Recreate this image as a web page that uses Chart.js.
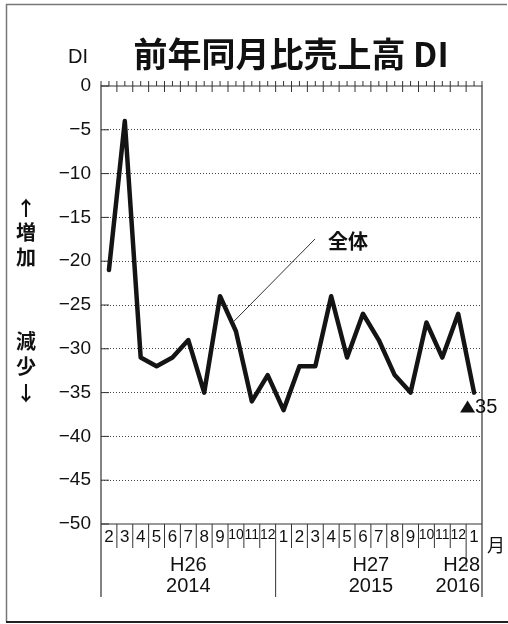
<!DOCTYPE html>
<html>
<head>
<meta charset="utf-8">
<script src="https://cdn.jsdelivr.net/npm/chart.js@4"></script>
<style>
  html, body { margin: 0; padding: 0; background: #fff; }
  #wrap { width: 508px; height: 624px; }
</style>
</head>
<body>
<div id="wrap"><canvas id="graph1" width="508" height="624"></canvas></div>
<script>
const months = ['2','3','4','5','6','7','8','9','10','11','12',
                '1','2','3','4','5','6','7','8','9','10','11','12',
                '1'];
const diValues = [-21, -4, -31, -32, -31, -29, -35, -24, -28, -36, -33,
                  -37, -32, -32, -24, -31, -26, -29, -33, -35, -27, -31, -26,
                  -35];
// year blocks: first index, last index, era label, year label
const yearBlocks = [
  { from: 0, to: 10, era: 'H26', year: '2014' },
  { from: 11, to: 22, era: 'H27', year: '2015' },
  { from: 23, to: 23, era: 'H28', year: '2016' }
];
const yTicks = [0, -5, -10, -15, -20, -25, -30, -35, -40, -45, -50];

const jp = "'Noto Sans CJK JP', 'Noto Sans', sans-serif";
const latin = "'Liberation Sans', Arial, sans-serif";

const extras = {
  id: 'extras',
  beforeDraw(chart) {
    const ctx = chart.ctx;
    ctx.save();
    ctx.fillStyle = '#fff';
    ctx.fillRect(0, 0, chart.width, chart.height);
    ctx.restore();
  },
  afterDraw(chart) {
    const ctx = chart.ctx;
    const a = chart.chartArea;
    const x = chart.scales.x;
    const y = chart.scales.y;
    const step = (x.getPixelForValue(1) - x.getPixelForValue(0));
    ctx.save();

    // outer frame
    ctx.strokeStyle = '#777';
    ctx.lineWidth = 1.5;
    ctx.beginPath();
    ctx.moveTo(6.5, 622);
    ctx.lineTo(6.5, 4.5);
    ctx.lineTo(507, 4.5);
    ctx.stroke();
    ctx.strokeStyle = '#222';
    ctx.lineWidth = 2;
    ctx.beginPath();
    ctx.moveTo(6, 622);
    ctx.lineTo(508, 622);
    ctx.stroke();

    // plot frame
    ctx.strokeStyle = '#333';
    ctx.lineWidth = 1.2;
    ctx.beginPath();
    ctx.moveTo(a.left, 597);
    ctx.lineTo(a.left, a.top);
    ctx.lineTo(a.right, a.top);
    ctx.lineTo(a.right, 597);
    ctx.moveTo(a.left, a.bottom);
    ctx.lineTo(a.right, a.bottom);
    ctx.stroke();

    // top ticks (month boundaries long, mid-month short)
    ctx.lineWidth = 1;
    ctx.beginPath();
    for (let i = 0; i < months.length; i++) {
      const c = x.getPixelForValue(i);
      const b = c + step / 2;
      ctx.moveTo(c, a.top - 5);
      ctx.lineTo(c, a.top);
      if (i < months.length - 1) {
        ctx.moveTo(b, a.top - 5);
        ctx.lineTo(b, a.top + 6);
      } else {
        ctx.moveTo(b, a.top - 5);
        ctx.lineTo(b, a.top);
      }
    }
    ctx.moveTo(a.left, a.top - 5);
    ctx.lineTo(a.left, a.top);
    ctx.stroke();

    // left inner ticks
    ctx.beginPath();
    yTicks.forEach(v => {
      const py = y.getPixelForValue(v);
      ctx.moveTo(a.left, py);
      ctx.lineTo(a.left + 8, py);
    });
    ctx.stroke();

    // month separators under axis
    ctx.beginPath();
    for (let i = 0; i < months.length - 1; i++) {
      const b = x.getPixelForValue(i) + step / 2;
      let bottom = a.bottom + 24;
      if (i === 10) bottom = 597;
      if (i === 22) bottom = 567;
      ctx.moveTo(b, a.bottom);
      ctx.lineTo(b, bottom);
    }
    ctx.stroke();

    // year labels
    ctx.fillStyle = '#111';
    ctx.font = '20px ' + latin;
    ctx.textBaseline = 'middle';
    yearBlocks.forEach((blk, k) => {
      const l = x.getPixelForValue(blk.from) - step / 2;
      const r = x.getPixelForValue(blk.to) + step / 2;
      if (k === yearBlocks.length - 1) {
        ctx.textAlign = 'right';
        ctx.fillText(blk.era, r - 2, 565);
        ctx.fillText(blk.year, r - 2, 586);
      } else {
        ctx.textAlign = 'center';
        ctx.fillText(blk.era, (l + r) / 2, 565);
        ctx.fillText(blk.year, (l + r) / 2, 586);
      }
    });

    // 月
    ctx.textAlign = 'left';
    ctx.font = '18px ' + jp;
    ctx.fillText('月', a.right + 5, 545);

    // title and unit
    ctx.font = 'bold 34px ' + jp;
    ctx.textAlign = 'center';
    ctx.fillText('前年同月比売上高 DI', 291, 54);
    ctx.font = '20px ' + latin;
    ctx.textAlign = 'center';
    ctx.fillText('DI', 78, 57);

    // left side direction text
    ctx.font = 'bold 20px ' + jp;
    ctx.fillText('↑', 26, 208);
    ctx.fillText('増', 26, 232);
    ctx.fillText('加', 26, 257);
    ctx.fillText('減', 26, 341);
    ctx.fillText('少', 26, 366);
    ctx.fillText('↓', 26, 393);

    // annotation 全体
    const px = x.getPixelForValue(8);
    const py = y.getPixelForValue(diValues[8]);
    ctx.lineWidth = 1;
    ctx.beginPath();
    ctx.moveTo(315, 239);
    ctx.lineTo(px - 3, py - 9);
    ctx.stroke();
    ctx.font = 'bold 20px ' + jp;
    ctx.textAlign = 'left';
    ctx.fillText('全体', 328, 241);

    // latest value marker
    const lx = x.getPixelForValue(months.length - 1);
    const ly = y.getPixelForValue(diValues[diValues.length - 1]);
    ctx.beginPath();
    ctx.moveTo(lx - 14, ly + 20);
    ctx.lineTo(lx + 1, ly + 20);
    ctx.lineTo(lx - 6.5, ly + 8);
    ctx.closePath();
    ctx.fill();
    ctx.font = '20px ' + latin;
    ctx.fillText(String(Math.abs(diValues[diValues.length - 1])), lx + 1, ly + 15);

    ctx.restore();
  }
};

const data = {
  labels: months,
  datasets: [{
    label: '全体',
    data: diValues,
    borderColor: '#141414',
    backgroundColor: '#141414',
    borderWidth: 4.5,
    borderJoinStyle: 'round',
    borderCapStyle: 'round',
    pointRadius: 0,
    tension: 0
  }]
};

const config = {
  type: 'line',
  data: data,
  options: {
    responsive: false,
    animation: false,
    layout: { padding: { left: 6, right: 26, top: 86, bottom: 0 } },
    plugins: {
      legend: { display: false },
      tooltip: { enabled: false },
      title: { display: false }
    },
    scales: {
      x: {
        offset: true,
        grid: { display: false, drawTicks: false },
        border: { display: false },
        afterFit(s) { s.height = 100; },
        ticks: {
          autoSkip: false,
          maxRotation: 0,
          padding: 3,
          color: '#111',
          font(c) {
            const t = months[c.index] || '';
            return t.length > 1
              ? { family: latin, size: 14 }
              : { family: latin, size: 17 };
          }
        }
      },
      y: {
        min: -50,
        max: 0,
        afterFit(s) { s.width = 95; },
        afterBuildTicks(s) { s.ticks = yTicks.map(v => ({ value: v })); },
        border: { display: false, dash: [1, 2] },
        grid: {
          color(c) { return (c.tick.value === 0 || c.tick.value === -50) ? 'rgba(0,0,0,0)' : '#444'; },
          lineWidth: 1,
          drawTicks: false
        },
        ticks: {
          padding: 10,
          color: '#111',
          font: { family: latin, size: 19 },
          callback(v) { return v === 0 ? '0' : '−' + Math.abs(v); }
        }
      }
    }
  },
  plugins: [extras]
};

new Chart(document.querySelector('#graph1'), config);
</script>
</body>
</html>
